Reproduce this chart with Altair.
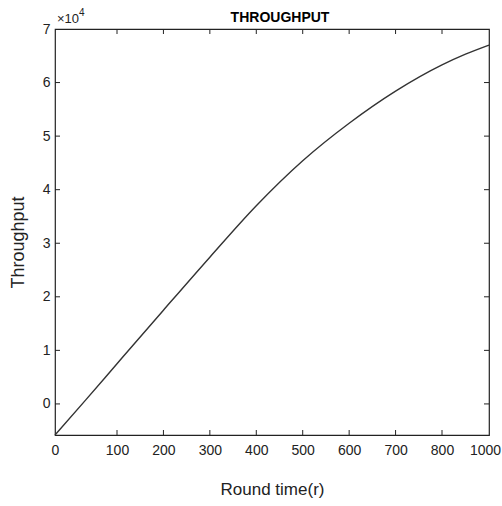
import altair as alt
import pandas as pd

# Data
round_time = [0, 50, 100, 200, 300, 400, 500, 600, 700, 800, 900, 1000]
throughput = [-5800, 800, 7500, 17500, 27400, 37000, 45400, 52400, 58400, 63300, 65300, 67000]

x_tick_labels = [0, 100, 200, 300, 400, 500, 600, 700, 800, 1000]
x_inner_ticks = [100, 200, 300, 400, 500, 600, 700, 800]
y_tick_values = [0, 10000, 20000, 30000, 40000, 50000, 60000, 70000]
y_inner_ticks = [0, 10000, 20000, 30000, 40000, 50000, 60000]

W, H = 434, 406
FONT = "Liberation Sans"
INK = "#222222"

df = pd.DataFrame({"Round": round_time, "Throughput": throughput})
xt = pd.DataFrame({"Round": x_inner_ticks})
yt = pd.DataFrame({"Throughput": y_inner_ticks})

xscale = alt.Scale(domain=[0, 100, 800, 1000], range=[0, 62, 387, W], nice=False, zero=False)
yscale = alt.Scale(domain=[-5800, 70000], nice=False, zero=False)

xaxis = alt.Axis(values=x_tick_labels, format="d", title="Round time(r)", tickSize=0,
                 domain=False, grid=False, labelFlush=False, labelOverlap=False,
                 labelPadding=8, labelFontSize=14, labelFont=FONT, labelColor=INK,
                 labelOffset={"condition": {"test": "datum.value == 1000", "value": -4},
                              "value": 0},
                 titleFont=FONT, titleFontSize=17, titleFontWeight="normal",
                 titleColor=INK, titlePadding=24)
yaxis = alt.Axis(values=y_tick_values, labelExpr="datum.value / 10000",
                 title="Throughput", tickSize=0, domain=False, grid=False,
                 labelFlush=False, labelOverlap=False, labelPadding=5,
                 labelFontSize=14, labelFont=FONT, labelColor=INK,
                 titleFont=FONT, titleFontSize=18, titleFontWeight="normal",
                 titleColor=INK, titlePadding=15, titleY=213)

X = alt.X("Round:Q", scale=xscale, axis=xaxis)
Y = alt.Y("Throughput:Q", scale=yscale, axis=yaxis)

line = alt.Chart(df).mark_line(color="#333333", strokeWidth=1.4, interpolate="monotone").encode(
    x=X, y=Y)

tick_style = dict(color=INK, strokeWidth=1)
xb = alt.Chart(xt).mark_rule(**tick_style).encode(x=X, y=alt.value(H), y2=alt.value(H - 5))
xtop = alt.Chart(xt).mark_rule(**tick_style).encode(x=X, y=alt.value(0), y2=alt.value(5))
yl = alt.Chart(yt).mark_rule(**tick_style).encode(y=Y, x=alt.value(0), x2=alt.value(5))
yr = alt.Chart(yt).mark_rule(**tick_style).encode(y=Y, x=alt.value(W), x2=alt.value(W - 5))

exp_base = alt.Chart(pd.DataFrame({"t": ["×10"]})).mark_text(
    align="left", baseline="alphabetic", font=FONT, fontSize=13, color=INK).encode(
    x=alt.value(2), y=alt.value(-6), text="t:N")
exp_sup = alt.Chart(pd.DataFrame({"t": ["4"]})).mark_text(
    align="left", baseline="alphabetic", font=FONT, fontSize=10, color=INK).encode(
    x=alt.value(24), y=alt.value(-13), text="t:N")
title = alt.Chart(pd.DataFrame({"t": ["THROUGHPUT"]})).mark_text(
    align="center", baseline="alphabetic", font=FONT, fontSize=14, fontWeight="bold",
    color="black").encode(x=alt.value(225), y=alt.value(-7), text="t:N")

chart = alt.layer(line, xb, xtop, yl, yr, exp_base, exp_sup, title).properties(
    width=W, height=H,
    autosize=alt.AutoSizeParams(type="none"),
    padding={"left": 55, "top": 29, "right": 13, "bottom": 71},
    background="white",
).configure_view(stroke=INK, strokeWidth=1.2)

chart.save("out.html", embed_options={"renderer": "svg", "actions": False})
